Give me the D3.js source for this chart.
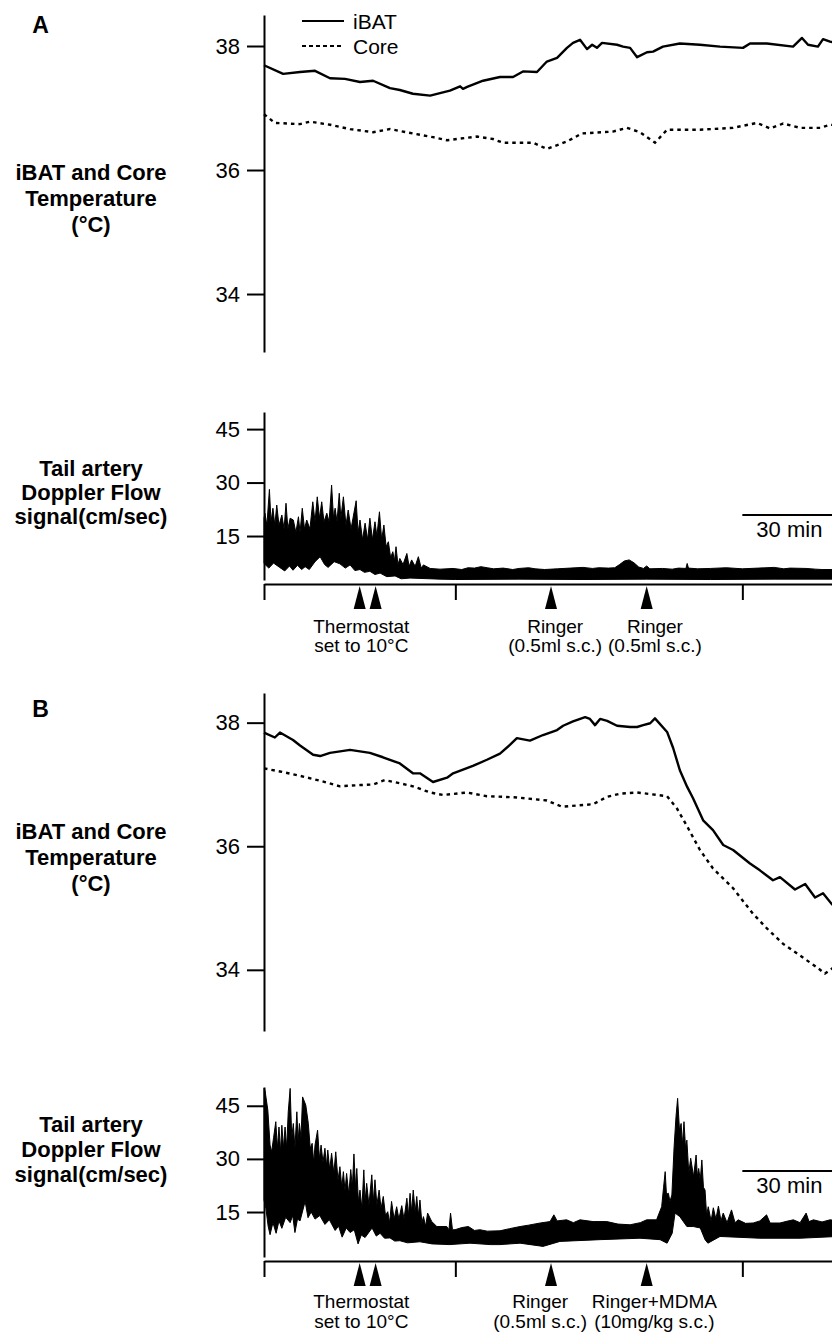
<!DOCTYPE html>
<html><head><meta charset="utf-8">
<script src="https://cdn.jsdelivr.net/npm/d3@7"></script>
<style>
body{margin:0;background:#fff}
svg{display:block}
text{font-family:"Liberation Sans",Arial,Helvetica,sans-serif;fill:#000}
</style>
</head><body>
<svg id="c" width="832" height="1334"></svg>
<script>
// ---------------- DATA (time in minutes, temperature in °C, flow in cm/sec) ----------------
const tempTicks = [34, 36, 38];
const flowTicks = [15, 30, 45];
const timeTicks = [0, 60, 150];
const scaleBarMin = [150, 180];
const scaleBarLabel = "30 min";

const eventsA = [30, 35, 90, 120];
const eventsB = [30, 35, 90, 120];
const annotA = [
  {t: 30.5, lines: ["Thermostat", "set to 10°C"]},
  {t: 91.3, lines: ["Ringer", "(0.5ml s.c.)"]},
  {t: 122.6, lines: ["Ringer", "(0.5ml s.c.)"]}
];
const annotB = [
  {t: 30.5, lines: ["Thermostat", "set to 10°C"]},
  {t: 86.6, lines: ["Ringer", "(0.5ml s.c.)"]},
  {t: 122.4, lines: ["Ringer+MDMA", "(10mg/kg s.c.)"]}
];
const legendLabels = ["iBAT", "Core"];
const tempLabel = ["iBAT and Core", "Temperature", "(°C)"];
const flowLabel = ["Tail artery", "Doppler Flow", "signal(cm/sec)"];

const tempA_iBAT = [[0,37.69],[6.0,37.55],[11.3,37.58],[16.0,37.60],[20.7,37.48],[25.4,37.47],[30.1,37.42],[34.2,37.44],[39.5,37.32],[42.6,37.29],[46.7,37.23],[52.1,37.20],[58.3,37.28],[61.5,37.35],[62.4,37.31],[63.7,37.34],[68.7,37.44],[74.0,37.50],[78.1,37.50],[81.2,37.59],[85.6,37.58],[88.7,37.75],[91.9,37.81],[95.0,37.97],[96.9,38.05],[99.1,38.10],[101.3,37.95],[102.9,38.02],[104.4,37.97],[106.0,38.05],[110.7,38.02],[112.6,37.99],[114.8,37.97],[117.0,37.82],[120.1,37.90],[122.0,37.91],[125.1,37.99],[130.4,38.04],[136.7,38.02],[143.0,37.99],[150.2,37.97],[152.4,38.04],[157.7,38.04],[165.9,37.99],[168.7,38.13],[170.6,38.02],[173.7,37.99],[175.3,38.11],[177.5,38.07],[180,38.05]];
const tempA_core = [[0,36.90],[3.4,36.76],[11.3,36.74],[14.4,36.78],[20.7,36.73],[27.0,36.66],[34.2,36.61],[39.5,36.66],[46.7,36.59],[53.0,36.53],[57.4,36.48],[66.8,36.54],[71.8,36.50],[74.9,36.44],[84.4,36.44],[88.7,36.34],[95.0,36.46],[99.7,36.59],[109.4,36.62],[113.8,36.68],[117.9,36.61],[122.6,36.44],[126.4,36.65],[136.7,36.65],[147.1,36.68],[154.6,36.76],[158.7,36.67],[162.8,36.75],[168.1,36.68],[174.4,36.68],[177.5,36.73],[180,36.72]];
const tempB_iBAT = [[0,37.84],[3.4,37.76],[5.0,37.84],[9.1,37.72],[11.3,37.63],[15.4,37.48],[17.6,37.46],[20.7,37.51],[27.0,37.56],[33.2,37.51],[37.3,37.44],[42.6,37.34],[46.7,37.18],[48.9,37.18],[53.0,37.04],[57.4,37.11],[59.3,37.18],[65.5,37.30],[69.9,37.40],[74.0,37.50],[77.1,37.64],[79.3,37.75],[83.4,37.71],[87.5,37.80],[91.9,37.88],[93.8,37.95],[96.9,38.02],[100.7,38.09],[102.2,38.06],[103.8,37.96],[105.4,38.06],[107.6,38.03],[110.7,37.95],[114.8,37.93],[117.0,37.93],[118.9,37.96],[121.1,37.99],[122.6,38.07],[126.4,37.85],[128.3,37.59],[130.4,37.23],[132.7,36.96],[134.5,36.78],[137.7,36.42],[140.8,36.26],[144.0,36.02],[147.1,35.94],[152.4,35.72],[155.5,35.61],[159.6,35.45],[161.8,35.50],[166.5,35.30],[169.7,35.39],[172.8,35.17],[175.3,35.24],[178.1,35.06],[180,35.02]];
const tempB_core = [[0,37.26],[5.0,37.21],[11.3,37.14],[17.6,37.06],[23.8,36.97],[30.1,36.99],[34.2,37.00],[37.9,37.07],[42.6,37.02],[46.7,36.97],[52.1,36.87],[56.1,36.83],[63.7,36.87],[69.9,36.81],[79.3,36.79],[88.7,36.74],[93.4,36.64],[103.2,36.68],[107.6,36.80],[111.6,36.85],[117.0,36.87],[126.4,36.81],[129.5,36.61],[132.7,36.32],[136.7,35.94],[140.8,35.64],[147.1,35.32],[153.3,34.91],[157.7,34.67],[162.8,34.42],[168.1,34.23],[173.4,34.04],[175.9,33.94],[178.1,34.02],[180,34.0]];

const flowA_upper = [[0,20],[0.3,21.4],[0.9,18],[1.7,28.1],[2.2,19],[2.8,22.8],[3.4,18],[4.0,23.7],[4.7,18],[5.6,20.9],[6.3,17],[6.9,24.2],[7.5,17],[8.2,20],[9.2,19.5],[10.0,16],[10.8,20.4],[11.3,16],[12.0,22.8],[12.7,17],[13.4,19.5],[14.4,17],[15.3,24.6],[16.0,19],[16.7,26],[17.4,20],[18.1,24.6],[18.8,19],[19.7,21.4],[20.4,19],[21.2,29.3],[21.8,20],[22.3,22.8],[22.9,19],[23.6,27],[24.1,20],[24.9,26],[25.7,18],[26.4,22.3],[27.3,17],[27.9,20],[28.9,24.9],[29.5,16],[30.1,19.5],[30.9,14],[31.7,18.6],[32.5,14],[33.2,20],[34.0,14],[34.8,19],[35.4,15],[36.2,21.8],[36.9,14],[37.6,18.1],[38.3,12],[39.0,13.4],[39.7,9],[40.4,10.6],[40.9,8],[41.4,12],[42.0,7],[42.6,8.7],[43.6,7],[44.8,10.1],[45.5,6.5],[46.3,8.3],[47.4,6.5],[48.4,9.2],[49.3,6],[50.0,6.9],[52.1,5.9],[55.2,5.7],[59.3,5.9],[62,5.6],[64,6.1],[66,6.0],[68,6.4],[70,6.1],[72,5.8],[75,6.0],[78,5.6],[80,5.9],[83,6.1],[85,5.8],[88,5.6],[92,5.8],[96,6.0],[100,6.2],[103,5.9],[105,6.1],[108,6.0],[110,6.1],[111.5,7.0],[113,8.0],[114.5,8.3],[116,7.5],[117.5,6.3],[119,5.9],[120,6.6],[121,5.8],[125,5.9],[128,5.7],[130,6.0],[132.3,5.9],[132.7,7.3],[133.1,6.0],[136,5.8],[140,5.9],[145,6.1],[150,5.8],[155,6.0],[160,6.2],[163,5.8],[165,6.0],[170,5.9],[173,5.7],[175,5.6],[180,5.6]];
const flowA_lower = [[0,7.3],[1.5,6.0],[3.0,7.4],[4.9,6.2],[6.5,5.2],[8.0,6.6],[9.1,5.4],[10.5,6.8],[11.8,5.6],[12.9,6.4],[14.2,5.6],[16.0,7.8],[17.6,9.2],[19.0,7.0],[20.1,6.2],[22.0,7.8],[23.8,7.2],[25.5,6.0],[27.0,6.9],[28.5,5.3],[30.1,5.6],[31.5,4.8],[33.2,5.1],[34.8,4.2],[36.4,4.6],[38.5,3.6],[41.1,3.8],[43.0,3.0],[45.8,3.2],[55.2,2.9],[60,2.8],[80,2.9],[100,2.8],[120,2.9],[140,2.8],[160,2.9],[180,2.9]];

const flowB_upper = [[0,49.9],[0.3,49.4],[1.2,43.8],[1.9,33.9],[2.4,32],[3.0,36],[3.7,40.5],[4.2,33],[4.7,39],[5.2,32],[5.6,39.5],[6.1,33],[6.6,39],[7.1,33],[7.6,43.3],[8.2,49.9],[8.7,36],[9.2,40],[9.7,33],[10.3,43.3],[10.7,35],[11.1,40],[11.6,36],[12.1,47.5],[13.1,45.2],[13.9,40],[14.5,33],[15.1,34.4],[15.6,29],[16.0,33.9],[16.8,38.1],[17.4,30],[17.9,33.9],[18.5,29],[19.1,33],[19.6,28],[20.0,32.5],[20.6,27],[21.2,31.6],[21.9,26],[22.5,32],[23.2,24],[23.8,27.8],[24.4,22],[24.9,26.4],[25.4,21],[25.9,25.9],[26.6,20],[27.2,27],[27.7,22],[28.2,31.4],[28.7,22],[29.1,27.3],[29.6,18],[30.1,21.2],[30.7,16],[31.3,26.9],[31.7,18],[32.2,23.1],[32.9,17],[33.8,25.5],[34.3,18],[34.8,24.1],[35.4,17],[36.1,21.2],[36.7,16],[37.4,19.4],[38.1,14],[38.8,15.1],[39.4,12],[40.0,18],[40.8,13],[41.6,16.5],[42.3,13],[43.2,16.8],[43.9,13],[44.8,18.9],[45.3,14],[45.8,20.3],[46.3,15],[46.8,21.2],[47.4,15],[47.9,19.4],[48.4,14],[48.9,18.4],[49.5,12],[50.0,13.7],[50.7,11],[51.3,14.7],[52.6,12.3],[54.2,10.9],[57.3,10.9],[58.0,10],[58.5,14.7],[59.1,10],[59.9,10],[62,10.6],[64.1,10.9],[66,9.8],[67.7,10],[70,9.6],[74.0,9.7],[77,10.3],[80.3,10.9],[83,11.3],[86.6,11.9],[89.7,12.3],[90.9,14.2],[91.9,12.5],[94.9,12.8],[97,12.0],[99.1,12.8],[103.2,12.3],[107.5,12.3],[111.0,11.6],[114.8,11.4],[118,12.0],[120.0,12.8],[123.1,12.8],[124.7,16.5],[125.3,22],[125.8,26.4],[126.2,20],[126.8,20.3],[127.3,18],[127.9,19.8],[128.6,33.4],[129.2,42],[129.7,47.1],[130.3,38],[130.8,40],[131.2,34],[131.7,40.5],[132.2,33],[132.6,35.3],[133.2,26],[133.8,30.2],[134.7,25],[135.5,31.1],[135.9,25],[136.3,27.3],[136.8,24],[137.3,29.7],[137.8,22],[138.3,21.2],[138.8,14],[139.3,16.5],[140.2,12.5],[140.9,16.2],[141.7,13],[142.5,16.7],[143.3,12.5],[144.0,14.7],[145.2,12],[146.6,15.6],[147.7,12],[148.7,12.8],[151,11.8],[153.4,11.9],[155.5,12.5],[157.6,14.2],[158.7,11.9],[161.8,11.9],[164,12.4],[166.0,12.8],[168.1,12.0],[170.0,14.7],[170.9,12.3],[172.3,12.8],[175,12.2],[177.5,12.8],[180,12.5]];
const flowB_lower = [[0,18.4],[0.6,16],[1.3,11],[1.9,8.6],[2.8,12],[3.8,9.0],[4.7,12.5],[5.6,10.4],[6.8,13.5],[8.2,12.0],[9.0,14],[9.7,9.2],[10.5,13],[11.3,12.5],[12.9,18],[13.8,13.4],[14.8,15],[16.0,13.0],[17.5,14],[19.1,11.5],[20.5,12.8],[22.3,9.8],[23.4,11],[24.5,7.9],[25.8,10.5],[27.0,9.2],[28.3,10],[29.5,6.0],[30.5,8.5],[31.7,7.8],[33.9,10.5],[35.2,8.2],[36.4,9.0],[37.8,7.6],[39.5,7.7],[41,6.8],[42.6,6.9],[45,6.3],[48.9,6.6],[52.7,6.0],[58.3,5.8],[64.6,6.2],[70.9,5.8],[74.0,5.8],[80.3,6.2],[87.5,5.3],[92.8,6.7],[105.4,7.2],[117.9,7.6],[124.2,7.2],[126.4,6.2],[128.0,9],[128.9,14.7],[130.4,13.7],[132.6,10.9],[134.6,10.9],[136.8,10.5],[138.3,7.2],[139.2,6.2],[143.0,8.1],[155.5,7.6],[168.1,7.6],[180,8.1]];

// ---------------- DRAWING ----------------
const svg = d3.select("#c");
const FONT = '"Liberation Sans",Arial,Helvetica,sans-serif';
const x = d3.scaleLinear().domain([0, 180]).range([264, 264 + 180 * 95.67 / 30]);
const fmt = d3.format("d");

function styleAxis(ax) {
  ax.attr("font-family", FONT).attr("font-size", 22);
  ax.selectAll("path,line").attr("stroke", "#000").attr("stroke-width", 2);
  ax.selectAll("text").attr("fill", "#000");
}

function drawTempPanel(cfg) {
  const y = d3.scaleLinear().domain(cfg.domain).range(cfg.range);
  const ax = svg.append("g").attr("transform", "translate(264,0)")
    .call(d3.axisLeft(y).tickValues(tempTicks).tickFormat(fmt).tickSize(17).tickPadding(7).tickSizeOuter(0));
  styleAxis(ax);
  const line = d3.line().x(d => x(d[0])).y(d => y(d[1]));
  svg.append("path").datum(cfg.iBAT).attr("d", line).attr("fill", "none")
    .attr("stroke", "#000").attr("stroke-width", 2.4).attr("stroke-linejoin", "round");
  svg.append("path").datum(cfg.core).attr("d", line).attr("fill", "none")
    .attr("stroke", "#000").attr("stroke-width", 2.4).attr("stroke-dasharray", "3.5,4");
  const tl = svg.append("text").attr("text-anchor", "middle").attr("font-weight", "bold").attr("font-size", 22);
  tempLabel.forEach((s, i) => tl.append("tspan").attr("x", 91).attr("y", cfg.labelY[i]).text(s));
  svg.append("text").attr("x", 40.5).attr("y", cfg.letterY).attr("text-anchor", "middle")
    .attr("font-weight", "bold").attr("font-size", 23).text(cfg.letter);
}

function drawFlowPanel(cfg) {
  const y = d3.scaleLinear().domain(cfg.domain).range(cfg.range);
  const ax = svg.append("g").attr("transform", "translate(264,0)")
    .call(d3.axisLeft(y).tickValues(flowTicks).tickFormat(fmt).tickSize(17).tickPadding(7).tickSizeOuter(0));
  styleAxis(ax);
  const poly = cfg.upper.concat(cfg.lower.slice().reverse());
  const line = d3.line().x(d => x(d[0])).y(d => y(d[1]));
  svg.append("path").attr("d", line(poly) + "Z")
    .attr("fill", "#000").attr("stroke", "#000").attr("stroke-width", 1).attr("stroke-linejoin", "round");
  const tx = svg.append("g").attr("transform", `translate(0,${cfg.timeY})`)
    .call(d3.axisBottom(x).tickValues(timeTicks).tickSize(16).tickFormat("").tickSizeOuter(0));
  tx.selectAll("path,line").attr("stroke", "#000").attr("stroke-width", 2);
  svg.append("g").selectAll("path").data(cfg.events).join("path")
    .attr("d", d => `M${x(d)},${cfg.timeY + 2}L${x(d) - 6},${cfg.timeY + 25}L${x(d) + 6},${cfg.timeY + 25}Z`)
    .attr("fill", "#000");
  cfg.annot.forEach(a => {
    const t = svg.append("text").attr("text-anchor", "middle").attr("font-size", 19);
    a.lines.forEach((s, i) => t.append("tspan").attr("x", x(a.t)).attr("y", cfg.annotY[i]).text(s));
  });
  svg.append("line").attr("x1", x(scaleBarMin[0])).attr("x2", x(scaleBarMin[1]))
    .attr("y1", cfg.barY).attr("y2", cfg.barY).attr("stroke", "#000").attr("stroke-width", 2);
  svg.append("text").attr("x", x(scaleBarMin[0]) + 14).attr("y", cfg.barY + 22)
    .attr("font-size", 22).text(scaleBarLabel);
  const tl = svg.append("text").attr("text-anchor", "middle").attr("font-weight", "bold").attr("font-size", 22);
  flowLabel.forEach((s, i) => tl.append("tspan").attr("x", 91).attr("y", cfg.labelY[i]).text(s));
}

drawTempPanel({domain: [33.065, 38.5], range: [352, 15], iBAT: tempA_iBAT, core: tempA_core,
  labelY: [180, 206, 232], letter: "A", letterY: 33});
drawFlowPanel({domain: [2.66, 49.8], range: [580, 412], upper: flowA_upper, lower: flowA_lower,
  timeY: 584, events: eventsA, annot: annotA, annotY: [633, 652], barY: 515, labelY: [476, 500, 524]});
drawTempPanel({domain: [33.01, 38.48], range: [1031, 693], iBAT: tempB_iBAT, core: tempB_core,
  labelY: [839, 865, 891], letter: "B", letterY: 717});
drawFlowPanel({domain: [2.3, 50.3], range: [1257, 1087], upper: flowB_upper, lower: flowB_lower,
  timeY: 1261, events: eventsB, annot: annotB, annotY: [1308, 1328], barY: 1171, labelY: [1132, 1157, 1182]});

const lg = svg.append("g");
legendLabels.forEach((s, i) => {
  const yy = 21 + i * 25;
  lg.append("line").attr("x1", 302).attr("x2", 344).attr("y1", yy).attr("y2", yy)
    .attr("stroke", "#000").attr("stroke-width", 2).attr("stroke-dasharray", i ? "4,3" : null);
  lg.append("text").attr("x", 353).attr("y", yy + 8).attr("font-size", 21).text(s);
});
</script>
</body></html>
